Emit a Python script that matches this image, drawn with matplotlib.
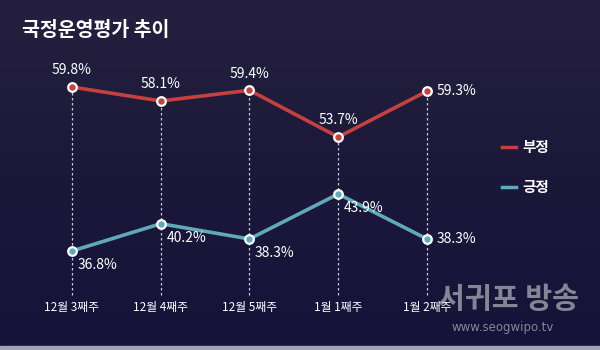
"""국정운영평가 추이 - 부정/긍정 weekly trend on a dark navy card."""
import matplotlib

matplotlib.use("Agg")
import matplotlib.pyplot as plt
import numpy as np

plt.rcParams["font.family"] = ["Noto Sans CJK KR", "DejaVu Sans"]

weeks = ["12월 3째주", "12월 4째주", "12월 5째주", "1월 1째주", "1월 2째주"]
negative = [59.8, 58.1, 59.4, 53.7, 59.3]   # 부정
positive = [36.8, 40.2, 38.3, 43.9, 38.3]   # 긍정

RED = "#c4413f"
TEAL = "#5fa9b8"
GRID = "#c9c9d4"

fig = plt.figure(figsize=(6.0, 3.5), dpi=100)

# background gradient (watermark lives here so the chart sits on top of it)
bg = fig.add_axes([0, 0, 1, 1])
grad = np.linspace(0, 1, 256).reshape(-1, 1)
cmap = matplotlib.colors.LinearSegmentedColormap.from_list("bg", ["#25203f", "#1b1839", "#15133a"])
bg.imshow(grad, aspect="auto", cmap=cmap, extent=[0, 1, 0, 1], origin="upper")
bg.axhspan(0, 0.012, color="#a3a3b3")
bg.set_xlim(0, 1)
bg.set_ylim(0, 1)
bg.axis("off")
bg.text(508 / 600, 1 - 299 / 350, "서귀포 방송", color="#9a9aa6", fontsize=21,
        fontweight="bold", ha="center", va="center", alpha=0.85)
bg.text(503 / 600, 1 - 327 / 350, "www.seogwipo.tv", color="#9a9aa6", fontsize=8.5,
        ha="center", va="center", alpha=0.85, family=["DejaVu Sans"])

ax = fig.add_axes([0, 0, 1, 1])
ax.patch.set_alpha(0)
ax2 = ax.twinx()
x = np.arange(len(weeks))
for a in (ax, ax2):
    a.set_xlim(-0.811, 5.949)
    a.axis("off")
ax.set_ylim(27.73, 70.41)
ax2.set_ylim(24.47, 68.06)

# dashed guides from the red point down
ax.vlines(x, 34.4, negative, colors=GRID, linestyles=(0, (2, 2)), linewidth=0.9, zorder=1)

ax.plot(x, negative, color=RED, lw=2.6, zorder=3)
ax.plot(x, negative, "o", ms=6.2, mfc=RED, mec="white", mew=1.6, zorder=4)
ax2.plot(x, positive, color=TEAL, lw=2.6, zorder=3)
ax2.plot(x, positive, "o", ms=6.2, mfc=TEAL, mec="white", mew=1.6, zorder=4)

for i, v in enumerate(negative):
    if i == len(negative) - 1:
        ax.annotate(f"{v}%", (i, v), xytext=(7, 0), textcoords="offset points",
                    ha="left", va="center", color="white", fontsize=10)
    else:
        ax.annotate(f"{v}%", (i, v), xytext=(0, 12), textcoords="offset points",
                    ha="center", va="center", color="white", fontsize=10)
for i, v in enumerate(positive):
    if i == len(positive) - 1:
        ax2.annotate(f"{v}%", (i, v), xytext=(7, 0), textcoords="offset points",
                     ha="left", va="center", color="white", fontsize=10)
    else:
        ax2.annotate(f"{v}%", (i, v), xytext=(4, -10), textcoords="offset points",
                     ha="left", va="center", color="white", fontsize=10)

trans = matplotlib.transforms.blended_transform_factory(ax.transData, ax.transAxes)
for i, w in enumerate(weeks):
    ax.text(i, 1 - 308 / 350, w, transform=trans, ha="center", va="center",
            color="white", fontsize=8.5, zorder=6)

fig.text(22 / 600, 1 - 30 / 350, "국정운영평가 추이", color="white", fontsize=14,
         fontweight="bold", ha="left", va="center")

# legend
for yy, lab, col in [(147, "부정", RED), (187, "긍정", TEAL)]:
    fy = 1 - yy / 350
    fig.add_artist(matplotlib.lines.Line2D([502 / 600, 516 / 600], [fy, fy], color=col, lw=2.5))
    fig.text(522 / 600, fy, lab, color="white", fontsize=10.5, fontweight="bold",
             ha="left", va="center")

fig.savefig("out.png", dpi=100)
